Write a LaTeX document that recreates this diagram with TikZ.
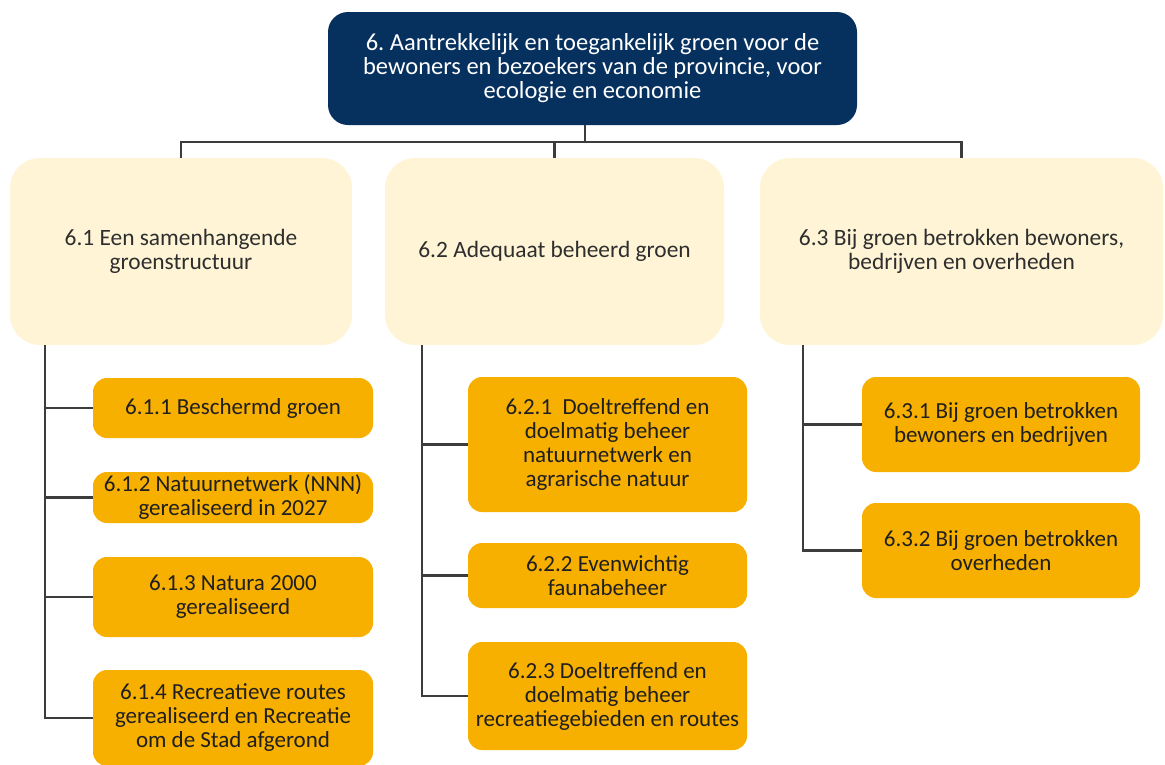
\documentclass[tikz,border=0pt]{standalone}
\usepackage{fontspec}
\setmainfont{Carlito}
\usetikzlibrary{positioning,calc}
\definecolor{navy}{HTML}{06305E}
\definecolor{cream}{HTML}{FFF5D6}
\definecolor{amber}{HTML}{F7AF00}
\definecolor{linegray}{HTML}{3C3C3C}
\frenchspacing

\begin{document}
\begin{tikzpicture}[x=1pt,y=-1pt,inner sep=1pt,
  top/.style={rectangle,align=center,font=\fontsize{24.5}{24}\selectfont,rounded corners=20pt,fill=navy,text=white},
  goal/.style={rectangle,align=center,font=\fontsize{23.4}{24}\selectfont,rounded corners=30pt,fill=cream,text=black!82},
  sub/.style={rectangle,align=center,font=\fontsize{23}{24}\selectfont,rounded corners=14pt,fill=amber,text=black!88},
  link/.style={draw=linegray,line width=2.2pt}]
\useasboundingbox (0,0) rectangle (1165,764);
% main goal
\node[top,minimum width=529pt,minimum height=113pt](top) at (592.5,68.5) {6. Aantrekkelijk en toegankelijk groen voor de\\ bewoners en bezoekers van de provincie, voor\\ ecologie en economie};
% sub goals
\node[goal,minimum width=342pt,minimum height=187pt](g_1) at (181,251.5) {6.1 Een samenhangende\\ groenstructuur};
\node[goal,minimum width=339pt,minimum height=187pt](g_2) at (554.5,251.5) {6.2 Adequaat beheerd groen};
\node[goal,minimum width=403pt,minimum height=187pt](g_3) at (961.5,251.5) {6.3 Bij groen betrokken bewoners,\\ bedrijven en overheden};
% column 1
\node[sub,minimum width=280pt,minimum height=60pt](s_11) at (233,408) {6.1.1 Beschermd groen};
\node[sub,minimum width=280pt,minimum height=51pt](s_12) at (233,497.5) {6.1.2 Natuurnetwerk (NNN)\\ gerealiseerd in 2027};
\node[sub,minimum width=280pt,minimum height=80pt](s_13) at (233,597) {6.1.3 Natura 2000\\ gerealiseerd};
\node[sub,minimum width=280pt,minimum height=96pt](s_14) at (233,718) {6.1.4 Recreatieve routes\\ gerealiseerd en Recreatie\\ om de Stad afgerond};
% column 2
\node[sub,minimum width=279pt,minimum height=135pt](s_21) at (607.5,444.5) {6.2.1\ \ Doeltreffend en\\ doelmatig beheer\\ natuurnetwerk en\\ agrarische natuur};
\node[sub,minimum width=279pt,minimum height=65pt](s_22) at (607.5,575.5) {6.2.2 Evenwichtig\\ faunabeheer};
\node[sub,minimum width=279pt,minimum height=108pt](s_23) at (607.5,696) {6.2.3 Doeltreffend en\\ doelmatig beheer\\ recreatiegebieden en routes};
% column 3
\node[sub,minimum width=278pt,minimum height=95pt](s_31) at (1001,424.5) {6.3.1 Bij groen betrokken\\ bewoners en bedrijven};
\node[sub,minimum width=278pt,minimum height=95pt](s_32) at (1001,550.5) {6.3.2 Bij groen betrokken\\ overheden};
% connectors
\coordinate (bus) at (585,142);
\draw[link] (bus |- top.south) -- (bus);
\draw[link] (bus) -| (g_1.north);
\draw[link] (bus) -| (g_2.north);
\draw[link] (bus) -| (g_3.north);
\coordinate (t_1) at ([xshift=35pt]g_1.south west);
\coordinate (t_2) at ([xshift=37pt]g_2.south west);
\coordinate (t_3) at ([xshift=43pt]g_3.south west);
\draw[link] (t_1) |- (s_11.west);
\draw[link] (t_1) |- (s_12.west);
\draw[link] (t_1) |- (s_13.west);
\draw[link] (t_1) |- (s_14.west);
\draw[link] (t_2) |- (s_21.west);
\draw[link] (t_2) |- (s_22.west);
\draw[link] (t_2) |- (s_23.west);
\draw[link] (t_3) |- (s_31.west);
\draw[link] (t_3) |- (s_32.west);
\end{tikzpicture}
\end{document}
